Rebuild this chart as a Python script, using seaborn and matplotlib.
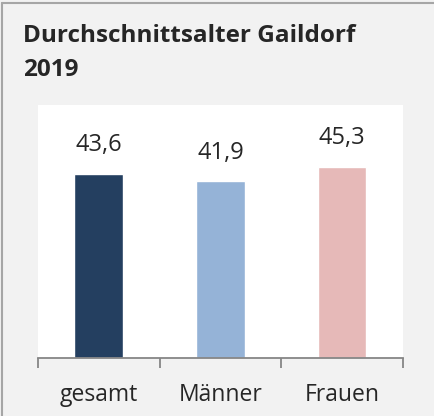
import pandas as pd
import seaborn as sns
from matplotlib import pyplot as plt
from matplotlib.lines import Line2D

# Daten
kategorien = ['gesamt', 'Männer', 'Frauen']
alter = [43.6, 41.9, 45.3]
farben = ['#243f60', '#95b3d7', '#e6b9b8']
titel = 'Durchschnittsalter Gaildorf\n2019'

sns.set_style('white')
plt.rcParams['font.family'] = ['Open Sans', 'DejaVu Sans']

data = pd.DataFrame({'kategorie': kategorien, 'alter': alter})

W, H = 435, 416
fig = plt.figure(figsize=(W / 100, H / 100), dpi=100, facecolor='#f2f2f2')
ax = fig.add_axes([38 / W, (H - 358) / H, 365 / W, (358 - 105) / H])
ax.set_facecolor('white')

sns.barplot(data=data, x='kategorie', y='alter', hue='kategorie',
            palette=farben, width=0.4, legend=False, ax=ax, saturation=1)

ax.set_xlim(-0.5, 2.5)
ax.set_ylim(0, 60)
ax.set_xlabel('')
ax.set_ylabel('')
ax.set_yticks([])

for s in ['left', 'right', 'top']:
    ax.spines[s].set_visible(False)
ax.spines['bottom'].set_color('#868686')
ax.spines['bottom'].set_linewidth(1.3)

# Trennstriche zwischen den Kategorien (major), Beschriftung mittig (minor)
ax.set_xticks([-0.5, 0.5, 1.5, 2.5])
ax.set_xticklabels([])
ax.tick_params(axis='x', which='major', bottom=True, length=7, width=1.3,
               color='#868686', direction='out')
ax.set_xticks([0, 1, 2], minor=True)
ax.set_xticklabels(kategorien, minor=True, fontsize=16.5)
ax.tick_params(axis='x', which='minor', bottom=True, length=0, pad=18)

for cont in ax.containers:
    ax.bar_label(cont, labels=[f'{v:.1f}'.replace('.', ',') for v in cont.datavalues],
                 padding=12, fontsize=17)

fig.text(23 / W, 1 - 24 / H, titel, fontsize=17.5, fontweight='bold',
         va='top', ha='left', linespacing=1.55)

# Rahmen oben und links
fig.add_artist(Line2D([2.5 / W, 2.5 / W], [0, 1 - 2.5 / H], color='#a6a6a6', lw=1.5))
fig.add_artist(Line2D([2.5 / W, 1], [1 - 2.5 / H, 1 - 2.5 / H], color='#a6a6a6', lw=1.5))

fig.savefig('out.png', dpi=100, facecolor=fig.get_facecolor())
